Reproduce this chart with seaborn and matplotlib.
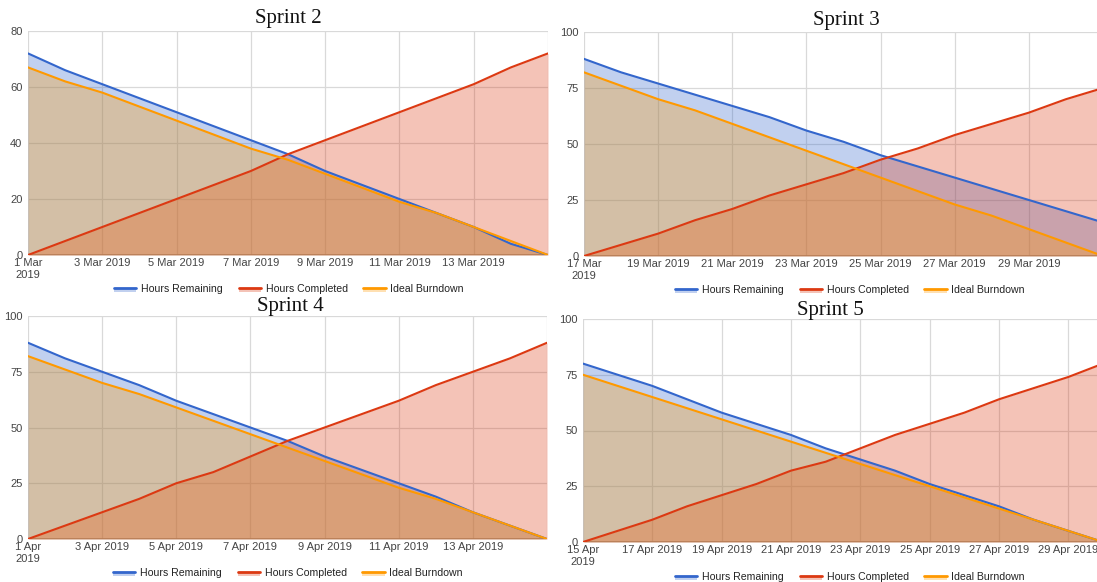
import matplotlib
matplotlib.use("Agg")
import matplotlib.pyplot as plt
import pandas as pd
import seaborn as sns
from matplotlib.legend_handler import HandlerBase
from matplotlib.lines import Line2D
from matplotlib.patches import Rectangle

# ---- data -------------------------------------------------------------
SERIES = ["Hours Remaining", "Hours Completed", "Ideal Burndown"]
COLORS = {"Hours Remaining": "#3366cc",
          "Hours Completed": "#dc3912",
          "Ideal Burndown": "#ff9900"}

sprint2_start = "2019-03-01"
sprint2_remaining = [72, 66, 61, 56, 51, 46, 41, 36, 30, 25, 20, 15, 10, 4, 0]
sprint2_completed = [0, 5, 10, 15, 20, 25, 30, 36, 41, 46, 51, 56, 61, 67, 72]
sprint2_ideal = [67, 62, 58, 53, 48, 43, 38, 34, 29, 24, 19, 15, 10, 5, 0]

sprint3_start = "2019-03-17"
sprint3_remaining = [88, 82, 77, 72, 67, 62, 56, 51, 45, 40, 35, 30, 25, 20, 15]
sprint3_completed = [0, 5, 10, 16, 21, 27, 32, 37, 43, 48, 54, 59, 64, 70, 75]
sprint3_ideal = [82, 76, 70, 65, 59, 53, 47, 41, 35, 29, 23, 18, 12, 6, 0]

sprint4_start = "2019-04-01"
sprint4_remaining = [88, 81, 75, 69, 62, 56, 50, 44, 37, 31, 25, 19, 12, 6, 0]
sprint4_completed = [0, 6, 12, 18, 25, 30, 37, 44, 50, 56, 62, 69, 75, 81, 88]
sprint4_ideal = [82, 76, 70, 65, 59, 53, 47, 41, 35, 29, 23, 18, 12, 6, 0]

sprint5_start = "2019-04-15"
sprint5_remaining = [80, 75, 70, 64, 58, 53, 48, 42, 37, 32, 26, 21, 16, 10, 5, 0]
sprint5_completed = [0, 5, 10, 16, 21, 26, 32, 36, 42, 48, 53, 58, 64, 69, 74, 80]
sprint5_ideal = [75, 70, 65, 60, 55, 50, 45, 40, 35, 30, 25, 20, 15, 10, 5, 0]

sprint_titles = ["Sprint 2", "Sprint 3", "Sprint 4", "Sprint 5"]
y_max = [80, 100, 100, 100]
y_step = [20, 25, 25, 25]

# ---- layout (pixels in a 1097 x 582 canvas) ---------------------------
W, H = 1097, 582
# plot boxes: left, top, right, bottom (right-hand charts run past the edge)
boxes = [(28, 31, 548, 255), (584, 32, 1103, 256),
         (28, 316, 547, 539), (583, 319, 1103, 542)]
title_pos = [(288, 19), (846, 20), (290, 307), (830, 310)]
legend_pos = [(289, 289), (850, 290), (288, 573), (850, 577)]

sns.set_theme(style="white")
plt.rcParams["font.family"] = ["Liberation Sans", "DejaVu Sans"]

fig = plt.figure(figsize=(W / 100, H / 100), dpi=100)
fig.patch.set_facecolor("white")

sprints = [
    (sprint2_start, sprint2_remaining, sprint2_completed, sprint2_ideal),
    (sprint3_start, sprint3_remaining, sprint3_completed, sprint3_ideal),
    (sprint4_start, sprint4_remaining, sprint4_completed, sprint4_ideal),
    (sprint5_start, sprint5_remaining, sprint5_completed, sprint5_ideal),
]


class AreaLineHandler(HandlerBase):
    """Legend key: a coloured line sitting on top of a light fill."""

    def create_artists(self, legend, orig_handle, xdescent, ydescent,
                       width, height, fontsize, trans):
        c = orig_handle.get_color()
        top = height * 0.55 - ydescent
        bot = height * 0.05 - ydescent
        rect = Rectangle((-xdescent, bot), width, top - bot,
                         facecolor=c, alpha=0.3, lw=0, transform=trans)
        line = Line2D([-xdescent, width - xdescent], [top, top],
                      color=c, lw=2, transform=trans)
        return [rect, line]


for i, (start, rem, comp, ideal) in enumerate(sprints):
    l, t, r, b = boxes[i]
    ax = fig.add_axes([l / W, 1 - b / H, (r - l) / W, (b - t) / H])
    dates = pd.date_range(start, periods=len(rem), freq="D")
    df = pd.DataFrame({
        "date": list(dates) * 3,
        "hours": rem + comp + ideal,
        "series": [s for s in SERIES for _ in range(len(dates))],
    })

    # translucent areas under each series
    for s in SERIES:
        sub = df[df["series"] == s]
        ax.fill_between(sub["date"], sub["hours"], 0, color=COLORS[s],
                        alpha=0.3, lw=0, zorder=2)

    sns.lineplot(data=df, x="date", y="hours", hue="series",
                 hue_order=SERIES, palette=COLORS, lw=1.5,
                 estimator=None, legend=False, ax=ax, zorder=3)

    # axes styling
    ax.set_xlim(dates[0], dates[-1])
    ax.set_ylim(0, y_max[i])
    for sp in ax.spines.values():
        sp.set_visible(False)
    ax.set_xlabel("")
    ax.set_ylabel("")

    ticks = pd.date_range(dates[0], dates[-1], freq="2D")
    labels = []
    for k, d in enumerate(ticks):
        if k == 0:
            labels.append(f"{d.day} {d:%b}\n{d:%Y}")
        elif d == dates[-1]:
            labels.append("")
        else:
            labels.append(f"{d.day} {d:%b %Y}")
    ax.set_xticks(ticks, labels)
    yt = list(range(0, y_max[i] + 1, y_step[i]))
    ax.set_yticks(yt, [str(v) for v in yt])
    ax.tick_params(axis="both", length=0, labelsize=8, colors="#444444")
    ax.tick_params(axis="x", pad=2.5)
    ax.tick_params(axis="y", pad=4)

    ax.grid(True, color="#d9d9d9", lw=0.9)
    ax.set_axisbelow(True)
    ax.axhline(0, color="#999999", lw=1.2, zorder=1.5)

    tx, ty = title_pos[i]
    fig.text(tx / W, 1 - ty / H, sprint_titles[i], ha="center", va="center",
             fontsize=15, family=["Liberation Serif", "DejaVu Serif"],
             color="#111111")

    handles = [Line2D([], [], color=COLORS[s]) for s in SERIES]
    lx, ly = legend_pos[i]
    fig.legend(handles, SERIES, loc="center",
               bbox_to_anchor=(lx / W, 1 - ly / H), ncol=3, frameon=False,
               fontsize=7.6, handlelength=2.1, handletextpad=0.45,
               columnspacing=1.5, borderpad=0, labelcolor="#222222",
               handler_map={Line2D: AreaLineHandler()})

fig.savefig("out.png", dpi=100, facecolor="white")
